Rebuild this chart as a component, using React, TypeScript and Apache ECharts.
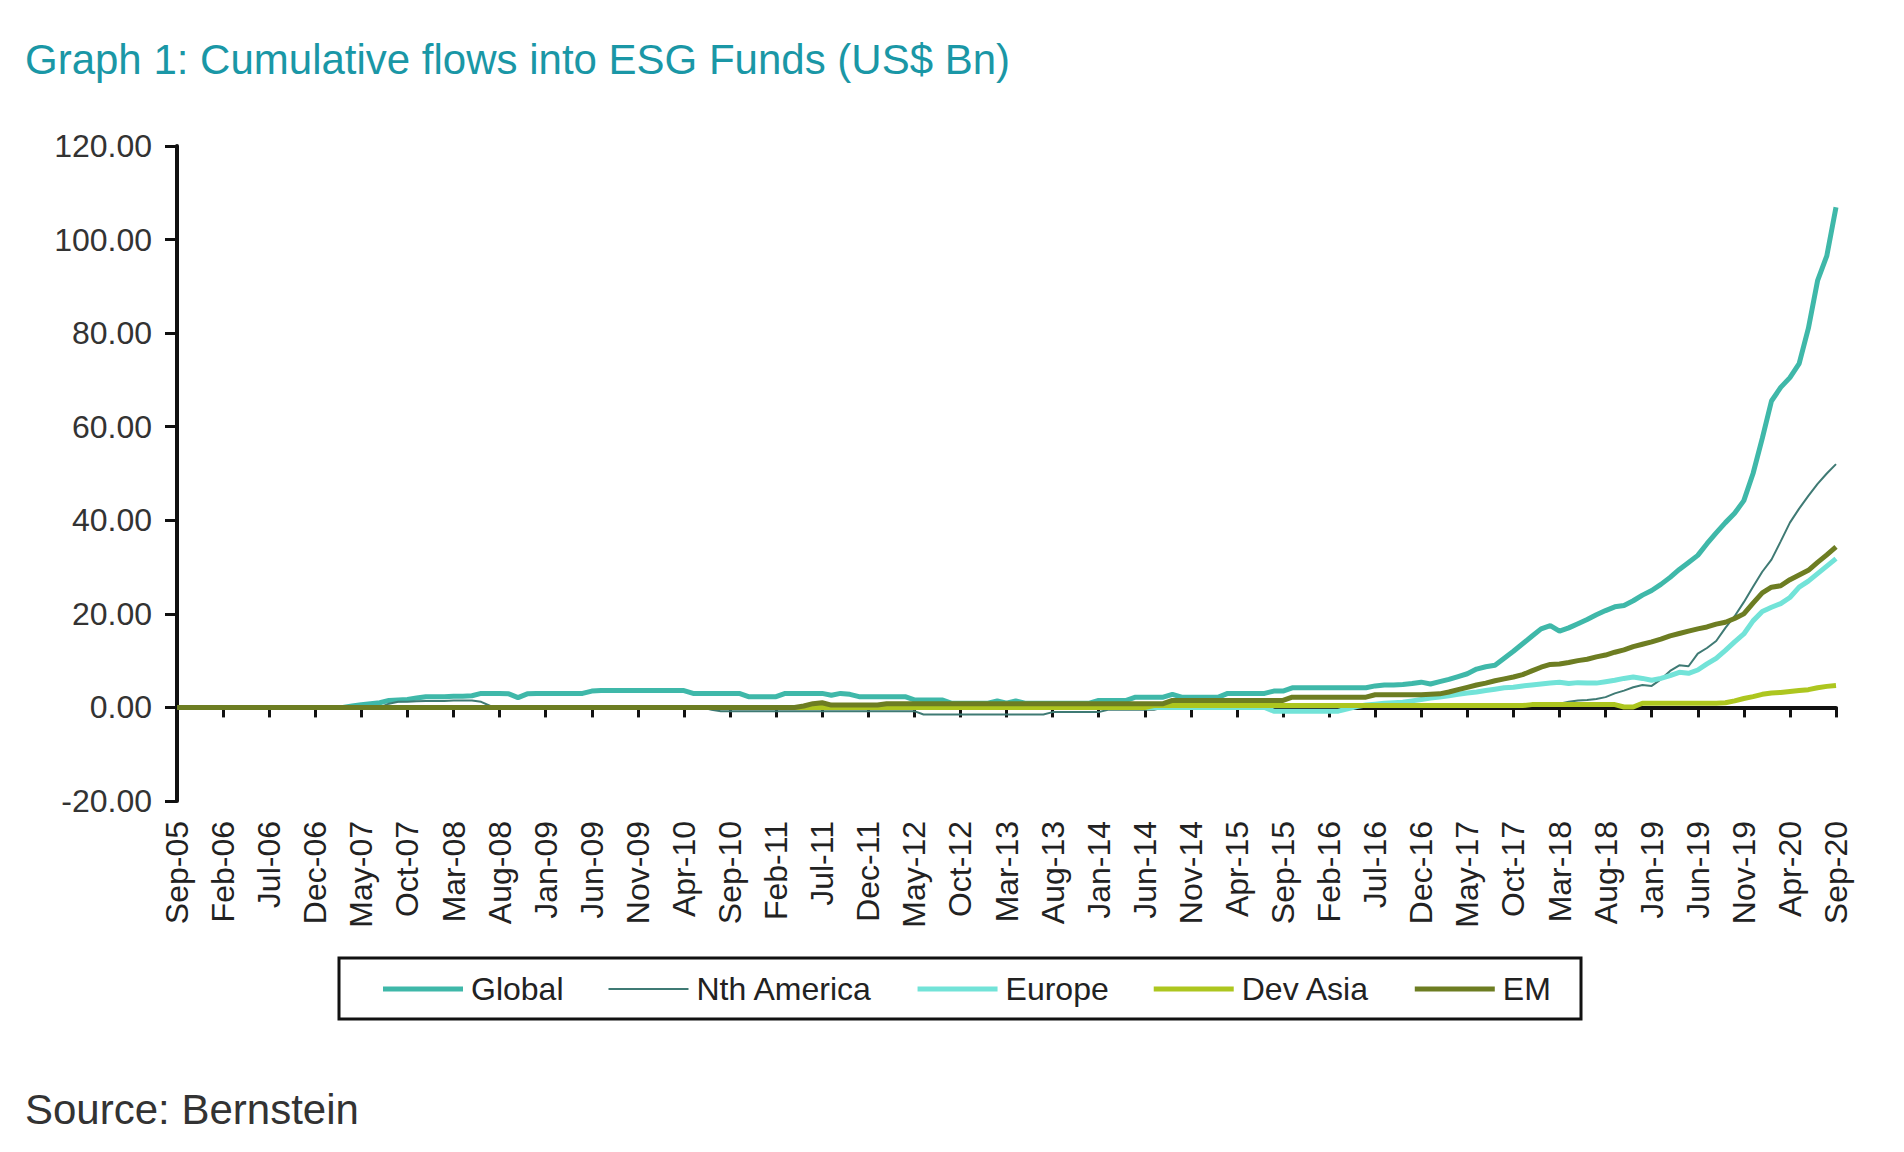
import { useEffect, useRef } from "react";
import * as echarts from "echarts";

const MONTH_NAMES = ["Jan", "Feb", "Mar", "Apr", "May", "Jun", "Jul", "Aug", "Sep", "Oct", "Nov", "Dec"];

// Sep-05 .. Sep-20, one point per month
const months: string[] = [];
for (let i = 0; i <= 180; i++) {
  const m = (8 + i) % 12;
  const y = 2005 + Math.floor((8 + i) / 12);
  months.push(`${MONTH_NAMES[m]}-${String(y % 100).padStart(2, "0")}`);
}

// rows run Sep..Aug
const globalFlows = [
  0, 0, 0, 0, 0, 0, 0, 0, 0, 0, 0, 0,
  0, 0, 0, 0, 0, 0, 0, 0.3, 0.6, 0.8, 1.0, 1.5,
  1.6, 1.7, 2.0, 2.3, 2.3, 2.3, 2.4, 2.4, 2.5, 3.0, 3.0, 3.0,
  2.9, 2.1, 2.9, 3.0, 3.0, 3.0, 3.0, 3.0, 3.0, 3.5, 3.6, 3.6,
  3.6, 3.6, 3.6, 3.6, 3.6, 3.6, 3.6, 3.6, 3.0, 3.0, 3.0, 3.0,
  3.0, 3.0, 2.3, 2.3, 2.3, 2.3, 3.0, 3.0, 3.0, 3.0, 3.0, 2.6,
  3.0, 2.8, 2.3, 2.3, 2.3, 2.3, 2.3, 2.3, 1.6, 1.6, 1.6, 1.6,
  0.9, 0.9, 0.9, 0.9, 0.9, 1.4, 0.9, 1.4, 0.9, 0.9, 0.9, 0.9,
  0.9, 0.9, 0.9, 0.9, 1.5, 1.5, 1.5, 1.5, 2.2, 2.2, 2.2, 2.2,
  2.8, 2.2, 2.2, 2.2, 2.2, 2.2, 3.0, 3.0, 3.0, 3.0, 3.0, 3.5,
  3.5, 4.2, 4.2, 4.2, 4.2, 4.2, 4.2, 4.2, 4.2, 4.2, 4.6, 4.8,
  4.8, 4.9, 5.1, 5.4, 5.0, 5.5, 6.0, 6.6, 7.2, 8.2, 8.7, 9.0,
  10.5, 12.0, 13.6, 15.2, 16.8, 17.5, 16.3, 17.0, 17.9, 18.8, 19.8, 20.7,
  21.5, 21.8, 22.8, 24.0, 25.0, 26.3, 27.8, 29.5, 31.0, 32.5, 35.0, 37.3,
  39.5, 41.5, 44.2, 50.0, 57.5, 65.5, 68.4, 70.5, 73.5, 81.0, 91.2, 96.5,
  106.9,
];

const nthAmerica = [
  0, 0, 0, 0, 0, 0, 0, 0, 0, 0, 0, 0,
  0, 0, 0, 0, 0, 0, 0, 0, 0, 0, 0, 0.8,
  1.2, 1.2, 1.3, 1.4, 1.4, 1.4, 1.5, 1.5, 1.5, 1.2, 0.3, 0,
  0, 0, 0, 0, 0, 0, 0, 0, 0, 0, 0, 0,
  0, 0, 0, 0, 0, 0, 0, 0, 0, 0, -0.5, -0.8,
  -0.8, -0.8, -0.8, -0.8, -0.8, -0.8, -0.8, -0.8, -0.8, -0.8, -0.8, -0.8,
  -0.8, -0.8, -0.8, -0.8, -0.8, -0.8, -0.8, -0.8, -0.8, -1.5, -1.5, -1.5,
  -1.5, -1.5, -1.5, -1.5, -1.5, -1.5, -1.5, -1.5, -1.5, -1.5, -1.5, -1.0,
  -1.0, -1.0, -1.0, -1.0, -1.0, -0.5, -0.5, -0.5, -0.5, -0.5, -0.5, 0,
  0.3, 0.3, 0.3, 0.3, 0.3, 0.3, 0.3, 0.3, 0.3, 0.3, 0.3, 0.3,
  0.3, 0.3, 0.3, 0.3, 0.3, 0.3, 0.3, 0.3, 0.3, 0.3, 0.3, 0.3,
  0.3, 0.3, 0.3, 0.3, 0.3, 0.3, 0.3, 0.3, 0.3, 0.3, 0.3, 0.3,
  0.3, 0.3, 0.3, 0.3, 0.4, 0.6, 0.8, 1.2, 1.5, 1.6, 1.8, 2.2,
  3.0, 3.6, 4.3, 4.8, 4.6, 6.0, 7.8, 9.0, 8.8, 11.5, 12.7, 14.2,
  17.0, 19.5, 22.5, 25.8, 29.0, 31.6, 35.5, 39.5, 42.5, 45.2, 47.8, 50.0,
  52.0,
];

const europe = [
  0, 0, 0, 0, 0, 0, 0, 0, 0, 0, 0, 0,
  0, 0, 0, 0, 0, 0, 0, 0, 0, 0, 0, 0,
  0, 0, 0, 0, 0, 0, 0, 0, 0, 0, 0, 0,
  0, 0, 0, 0, 0, 0, 0, 0, 0, 0, 0, 0,
  0, 0, 0, 0, 0, 0, 0, 0, 0, 0, 0, 0,
  0, 0, 0, 0, 0, 0, 0, 0, 0, 0, 0, 0,
  0, 0, 0, 0, 0, 0, 0, 0, 0, 0, 0, 0,
  0, 0, 0, 0, 0, 0, 0, 0, 0, 0, 0, 0,
  0, 0, 0, 0, 0, 0, 0, 0, 0, 0, 0, 0,
  0, 0, 0, 0, 0, 0, 0, 0, 0, 0, 0, -0.8,
  -0.8, -0.8, -0.8, -0.8, -0.8, -0.8, -0.8, -0.3, 0.2, 0.5, 0.7, 0.9,
  1.0, 1.1, 1.4, 1.7, 2.0, 2.2, 2.5, 2.8, 3.1, 3.3, 3.6, 3.9,
  4.2, 4.3, 4.6, 4.8, 5.0, 5.2, 5.4, 5.1, 5.3, 5.2, 5.2, 5.5,
  5.8, 6.2, 6.5, 6.2, 5.8, 6.2, 6.8, 7.5, 7.3, 8.0, 9.3, 10.5,
  12.2, 14.0, 15.7, 18.5, 20.5, 21.4, 22.2, 23.5, 25.7, 27.0, 28.6, 30.2,
  31.8,
];

const devAsia = [
  0, 0, 0, 0, 0, 0, 0, 0, 0, 0, 0, 0,
  0, 0, 0, 0, 0, 0, 0, 0, 0, 0, 0, 0,
  0, 0, 0, 0, 0, 0, 0, 0, 0, 0, 0, 0,
  0, 0, 0, 0, 0, 0, 0, 0, 0, 0, 0, 0,
  0, 0, 0, 0, 0, 0, 0, 0, 0, 0, 0, 0,
  0, 0, 0, 0, 0, 0, 0, 0, 0, 0, 0, 0,
  0, 0, 0, 0, 0, 0, 0, 0, 0, 0, 0, 0,
  0, 0, 0, 0, 0, 0, 0, 0, 0, 0, 0, 0,
  0, 0, 0, 0, 0, 0, 0, 0, 0, 0, 0.4, 0.4,
  0.4, 0.4, 0.4, 0.4, 0.4, 0.4, 0.4, 0.4, 0.4, 0.4, 0.4, 0.4,
  0.4, 0.4, 0.4, 0.4, 0.4, 0.4, 0.4, 0.4, 0.4, 0.4, 0.4, 0.4,
  0.4, 0.4, 0.4, 0.4, 0.4, 0.4, 0.4, 0.4, 0.4, 0.4, 0.4, 0.4,
  0.4, 0.4, 0.4, 0.6, 0.6, 0.6, 0.6, 0.6, 0.6, 0.6, 0.6, 0.6,
  0.6, 0.1, 0.1, 0.9, 0.9, 0.9, 0.9, 0.9, 0.9, 0.9, 0.9, 0.9,
  1.0, 1.4, 1.9, 2.3, 2.8, 3.1, 3.2, 3.4, 3.6, 3.8, 4.2, 4.5,
  4.7,
];

const em = [
  0, 0, 0, 0, 0, 0, 0, 0, 0, 0, 0, 0,
  0, 0, 0, 0, 0, 0, 0, 0, 0, 0, 0, 0,
  0, 0, 0, 0, 0, 0, 0, 0, 0, 0, 0, 0,
  0, 0, 0, 0, 0, 0, 0, 0, 0, 0, 0, 0,
  0, 0, 0, 0, 0, 0, 0, 0, 0, 0, 0, 0,
  0, 0, 0, 0, 0, 0, 0, 0, 0.3, 0.8, 1.0, 0.5,
  0.5, 0.5, 0.5, 0.5, 0.5, 0.8, 0.8, 0.8, 0.8, 0.8, 0.8, 0.8,
  0.8, 0.8, 0.8, 0.8, 0.8, 0.8, 0.8, 0.8, 0.8, 0.8, 0.8, 0.8,
  0.8, 0.8, 0.8, 0.8, 0.8, 0.8, 0.8, 0.8, 0.8, 0.8, 0.8, 0.8,
  1.5, 1.5, 1.5, 1.5, 1.5, 1.5, 1.5, 1.5, 1.5, 1.5, 1.5, 1.5,
  1.5, 2.2, 2.2, 2.2, 2.2, 2.2, 2.2, 2.2, 2.2, 2.2, 2.7, 2.7,
  2.7, 2.7, 2.7, 2.7, 2.8, 2.9, 3.3, 3.8, 4.3, 4.8, 5.2, 5.7,
  6.1, 6.5, 7.0, 7.8, 8.6, 9.2, 9.3, 9.6, 10.0, 10.3, 10.8, 11.2,
  11.8, 12.3, 13.0, 13.5, 14.0, 14.6, 15.3, 15.8, 16.3, 16.8, 17.2, 17.8,
  18.2, 19.0, 20.0, 22.3, 24.5, 25.7, 26.0, 27.3, 28.3, 29.3, 31.0, 32.6,
  34.3,
];

const seriesDefs = [
  { name: "Global", data: globalFlows, color: "#3fb8a9", width: 5 },
  { name: "Nth America", data: nthAmerica, color: "#3f7a74", width: 2 },
  { name: "Europe", data: europe, color: "#72e3d8", width: 5 },
  { name: "Dev Asia", data: devAsia, color: "#adc61f", width: 5 },
  { name: "EM", data: em, color: "#6d7d22", width: 5 },
];

const FONT = "'Liberation Sans', Arial, sans-serif";

// legend swatch: a flat bar as thick as the series line
const swatch = (w: number) => `path://M0,0L80,0L80,${w}L0,${w}Z`;

export default function App() {
  const ref = useRef<HTMLDivElement | null>(null);

  useEffect(() => {
    if (!ref.current) return;
    const chart = echarts.init(ref.current, undefined, { renderer: "svg" });
    chart.setOption({
      animation: false,
      backgroundColor: "#ffffff",
      grid: { left: 177, right: 68, top: 146, bottom: 351, containLabel: false },
      graphic: [
        {
          type: "text",
          left: 25,
          top: 38,
          style: {
            text: "Graph 1: Cumulative flows into ESG Funds (US$ Bn)",
            font: `42px ${FONT}`,
            fill: "#1a97a6",
          },
        },
        {
          type: "text",
          left: 25,
          top: 1088,
          style: {
            text: "Source: Bernstein",
            font: `42px ${FONT}`,
            fill: "#333333",
          },
        },
        {
          type: "rect",
          shape: { x: 339, y: 958, width: 1242, height: 61 },
          style: { fill: "none", stroke: "#111111", lineWidth: 3 },
        },
      ],
      legend: {
        left: 383,
        top: 973,
        padding: 0,
        itemWidth: 80,
        itemHeight: 30,
        itemGap: 45,
        textStyle: { fontSize: 32, color: "#222222", fontFamily: FONT, padding: [0, 0, 0, 3] },
        data: seriesDefs.map((s) => ({
          name: s.name,
          icon: swatch(s.width),
          itemStyle: { color: s.color },
        })),
      },
      xAxis: [
        {
          type: "category",
          data: months,
          boundaryGap: false,
          position: "bottom",
          axisLine: { onZero: true, lineStyle: { color: "#111111", width: 4 } },
          axisTick: { show: true, interval: 4, length: 10, lineStyle: { color: "#111111", width: 3 } },
          axisLabel: { show: false },
          splitLine: { show: false },
        },
        {
          type: "category",
          data: months,
          boundaryGap: false,
          position: "bottom",
          axisLine: { show: false, onZero: false },
          axisTick: { show: false },
          axisLabel: {
            interval: 4,
            rotate: 90,
            margin: 20,
            fontSize: 32,
            color: "#222222",
            fontFamily: FONT,
          },
          splitLine: { show: false },
        },
      ],
      yAxis: {
        type: "value",
        min: -20,
        max: 120,
        interval: 20,
        axisLine: { show: true, lineStyle: { color: "#111111", width: 4 } },
        axisTick: { show: true, length: 12, lineStyle: { color: "#111111", width: 3 } },
        axisLabel: {
          margin: 25,
          fontSize: 32,
          color: "#333333",
          fontFamily: FONT,
          formatter: (v: number) => v.toFixed(2),
        },
        splitLine: { show: false },
      },
      series: seriesDefs.map((s) => ({
        name: s.name,
        type: "line",
        xAxisIndex: 0,
        data: s.data,
        symbol: "none",
        showSymbol: false,
        color: s.color,
        lineStyle: { color: s.color, width: s.width },
      })),
    });
    return () => chart.dispose();
  }, []);

  return (
    <div
      ref={ref}
      style={{ position: "absolute", left: 0, top: 0, width: 1904, height: 1152, background: "#fff" }}
    />
  );
}
